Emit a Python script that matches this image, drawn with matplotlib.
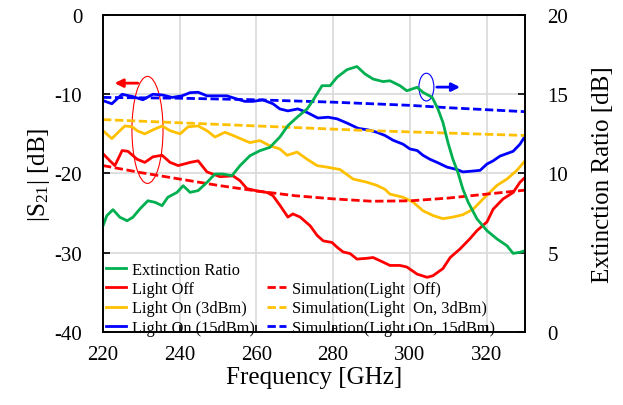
import matplotlib
matplotlib.use('Agg')
import matplotlib.pyplot as plt
from matplotlib.patches import Ellipse
from matplotlib.lines import Line2D

plt.rcParams['font.family'] = ['Liberation Serif', 'DejaVu Serif']
plt.rcParams['mathtext.fontset'] = 'custom'
plt.rcParams['mathtext.rm'] = 'Liberation Serif'
plt.rcParams['mathtext.it'] = 'Liberation Serif:italic'
plt.rcParams['axes.unicode_minus'] = False

# measured |S21| [dB], light off
off_f = [220.0, 221.8, 223.1, 225.0, 226.5, 228.9, 230.9, 233.0, 235.4, 237.5, 239.6,
         242.7, 244.8, 247.1, 250.5, 253.9, 255.7, 257.5, 260.1, 262.8, 264.3, 266.1,
         268.2, 269.5, 271.4, 274.0, 275.8, 277.4, 279.7, 281.0, 282.6, 284.4, 286.2,
         288.8, 290.4, 292.2, 294.8, 297.4, 299.2, 301.9, 304.5, 306.0, 308.6, 310.5,
         313.1, 315.7, 317.5, 320.1, 321.7, 324.3, 326.9, 328.7, 330.0]
off_db = [-17.5, -18.4, -19.0, -17.1, -17.2, -18.2, -18.6, -17.9, -17.7, -18.6, -19.0,
          -18.6, -18.4, -19.8, -20.4, -20.3, -20.9, -21.9, -22.2, -22.4, -22.8, -24.0,
          -25.5, -25.1, -25.5, -26.6, -27.8, -28.5, -28.7, -29.3, -29.9, -30.1, -30.8,
          -30.7, -30.6, -31.0, -31.6, -31.6, -31.8, -32.7, -33.1, -32.9, -32.0, -30.6,
          -29.5, -28.2, -27.2, -26.1, -24.5, -23.2, -22.4, -21.1, -20.5]

# measured, light on 3 dBm
on3_f = [220.0, 222.3, 224.4, 225.7, 227.6, 228.9, 230.9, 233.0, 235.4, 237.5, 240.1,
         242.2, 244.8, 247.1, 249.2, 251.8, 253.9, 257.0, 258.3, 260.9, 263.5, 266.1,
         268.0, 270.6, 273.2, 275.8, 278.4, 281.8, 285.2, 288.8, 291.4, 293.5, 294.8,
         298.2, 300.8, 303.4, 306.0, 308.6, 311.2, 313.8, 316.5, 319.1, 322.7, 325.3,
         327.9, 330.0]
on3_db = [-14.6, -15.6, -14.6, -14.0, -14.1, -14.6, -15.0, -14.5, -14.0, -14.6, -15.0,
          -14.1, -14.0, -14.6, -15.4, -14.8, -15.2, -15.85, -16.1, -15.85, -16.5, -16.9,
          -17.7, -17.3, -18.2, -19.0, -19.2, -19.5, -20.7, -21.1, -21.5, -22.0, -22.6,
          -23.0, -23.6, -24.7, -25.3, -25.7, -25.5, -25.2, -24.5, -23.2, -21.5, -20.7,
          -19.6, -18.4]

# measured, light on 15 dBm
on15_f = [220.0, 222.3, 225.0, 227.8, 230.4, 233.0, 235.6, 238.0, 240.6, 242.7, 244.8,
          247.1, 249.7, 252.3, 254.9, 257.0, 259.1, 261.6, 264.3, 266.1, 268.2, 270.8,
          273.2, 276.0, 278.7, 281.0, 283.9, 286.5, 289.1, 291.4, 293.5, 295.6, 298.2,
          300.0, 301.9, 303.4, 305.2, 307.1, 309.7, 312.3, 313.8, 316.2, 318.3, 320.1,
          321.7, 323.5, 326.9, 328.7, 330.0]
on15_db = [-10.8, -11.2, -10.0, -10.3, -10.7, -10.0, -10.1, -10.4, -10.2, -9.8, -9.75,
           -10.2, -10.2, -10.2, -10.6, -10.9, -10.9, -10.7, -11.2, -11.85, -12.1, -11.85,
           -12.3, -13.0, -12.9, -13.1, -13.7, -14.3, -14.5, -14.8, -15.2, -15.8, -16.3,
           -16.9, -17.1, -17.7, -18.2, -18.6, -19.2, -19.5, -19.8, -19.7, -19.6, -18.8,
           -18.4, -17.8, -17.2, -16.3, -15.3]

# simulations
sim_f = [220, 230, 240, 250, 260, 270, 280, 290, 300, 310, 320, 330]
sim_off = [-19.0, -19.9, -20.7, -21.5, -22.2, -22.8, -23.2, -23.5, -23.45, -23.1, -22.6, -22.1]
sim_on3 = [-13.2, -13.4, -13.6, -13.8, -14.0, -14.2, -14.4, -14.6, -14.75, -14.9, -15.05, -15.2]
sim_on15 = [-10.4, -10.45, -10.5, -10.6, -10.7, -10.85, -11.0, -11.2, -11.4, -11.7, -11.95, -12.2]

# extinction ratio [dB], right axis
er_f = [220.0, 221.0, 222.6, 224.4, 226.3, 227.8, 229.6, 231.7, 233.6, 235.4, 236.9,
        239.3, 240.9, 242.7, 244.8, 247.1, 249.2, 251.3, 253.6, 255.7, 258.3, 260.9,
        263.5, 266.1, 268.2, 270.6, 273.2, 274.7, 277.1, 279.2, 281.0, 283.6, 286.2,
        288.3, 290.4, 293.0, 294.8, 297.4, 299.2, 301.9, 303.4, 305.8, 307.3, 308.6,
        309.9, 311.2, 312.5, 313.8, 315.2, 317.5, 320.1, 322.7, 325.3, 326.9, 328.7, 330.0]
er_db = [6.7, 7.34, 7.72, 7.24, 7.02, 7.24, 7.76, 8.28, 8.18, 7.97, 8.5,
         8.81, 9.23, 8.81, 8.92, 9.44, 9.97, 9.97, 9.86, 10.49, 11.12, 11.44,
         11.65, 12.3, 13.02, 13.55, 14.07, 14.6, 15.54, 15.54, 16.07, 16.55, 16.75,
         16.28, 15.96, 15.8, 15.85, 15.54, 15.22, 15.44, 15.12, 14.81, 14.07, 13.23,
         11.97, 10.9, 10.08, 9.02, 8.18, 7.13, 6.39, 5.87, 5.44, 4.96, 5.03, 5.13]

GREEN = '#00B050'
RED = '#FF0000'
YELLOW = '#FFC000'
BLUE = '#0000FF'
LW = 2.0
DASH = (3.0, 1.3)

fig = plt.figure(figsize=(6.23, 4.06), dpi=100)
ax = fig.add_axes([0.1653, 0.1798, 0.6774, 0.7808])
ax2 = ax.twinx()

l_off, = ax.plot(off_f, off_db, color=RED, lw=LW, label='Light Off')
l_on3, = ax.plot(on3_f, on3_db, color=YELLOW, lw=LW, label='Light On (3dBm)')
l_on15, = ax.plot(on15_f, on15_db, color=BLUE, lw=LW, label='Light On (15dBm)')
s_off, = ax.plot(sim_f, sim_off, color=RED, lw=LW, dashes=DASH, label='Simulation(Light  Off)')
s_on3, = ax.plot(sim_f, sim_on3, color=YELLOW, lw=LW, dashes=DASH, label='Simulation(Light  On, 3dBm)')
s_on15, = ax.plot(sim_f, sim_on15, color=BLUE, lw=LW, dashes=DASH, label='Simulation(Light  On, 15dBm)')
l_er, = ax2.plot(er_f, er_db, color=GREEN, lw=LW, label='Extinction Ratio')

ax.set_xlim(220, 330)
ax.set_ylim(-40, 0)
ax2.set_ylim(0, 20)
ax.set_xticks([220, 240, 260, 280, 300, 320])
ax.set_yticks([0, -10, -20, -30, -40])
ax2.set_yticks([0, 5, 10, 15, 20])
ax.grid(True, color='#D9D9D9', lw=1.2)
ax.set_axisbelow(True)

ax.tick_params(axis='both', direction='in', length=5, width=1.2, labelsize=15)
ax.tick_params(axis='y', pad=15)
ax.tick_params(axis='x', pad=9)
ax2.tick_params(axis='y', direction='in', length=5, width=1.2, labelsize=15, pad=16)
for a in (ax, ax2):
    for s in a.spines.values():
        s.set_linewidth(1.2)

ax.set_xlabel('Frequency [GHz]', fontsize=18, labelpad=2)
ax.set_ylabel(r'$|\mathrm{S}_{21}|$ [dB]', fontsize=18, labelpad=2)
ax2.set_ylabel('Extinction Ratio [dB]', fontsize=18, labelpad=17)

# annotation ellipses and arrows
ax.add_patch(Ellipse((231.6, -14.5), 8.1, 13.5, fill=False, ec=RED, lw=0.8))
ax.annotate('', xy=(222.3, -8.6), xytext=(229.8, -8.6),
            arrowprops=dict(arrowstyle='-|>', color=RED, lw=2, mutation_scale=12))
ax.add_patch(Ellipse((304.3, -9.1), 3.9, 3.5, fill=False, ec=BLUE, lw=0.8))
ax.annotate('', xy=(313.8, -9.1), xytext=(306.3, -9.1),
            arrowprops=dict(arrowstyle='-|>', color=BLUE, lw=2, mutation_scale=12))

blank = Line2D([], [], linestyle='none')
handles = [l_er, l_off, l_on3, l_on15, blank, s_off, s_on3, s_on15]
labels = [h.get_label() for h in handles[:4]] + [' '] + [h.get_label() for h in handles[5:]]
ax2.legend(handles, labels, ncol=2, loc='lower left', bbox_to_anchor=(0.0, -0.022),
           frameon=False, fontsize=11.8, handlelength=1.2, handletextpad=0.35,
           columnspacing=0.75, labelspacing=0.2, borderpad=0.2, borderaxespad=0.0)

fig.savefig('out.png', dpi=100)
